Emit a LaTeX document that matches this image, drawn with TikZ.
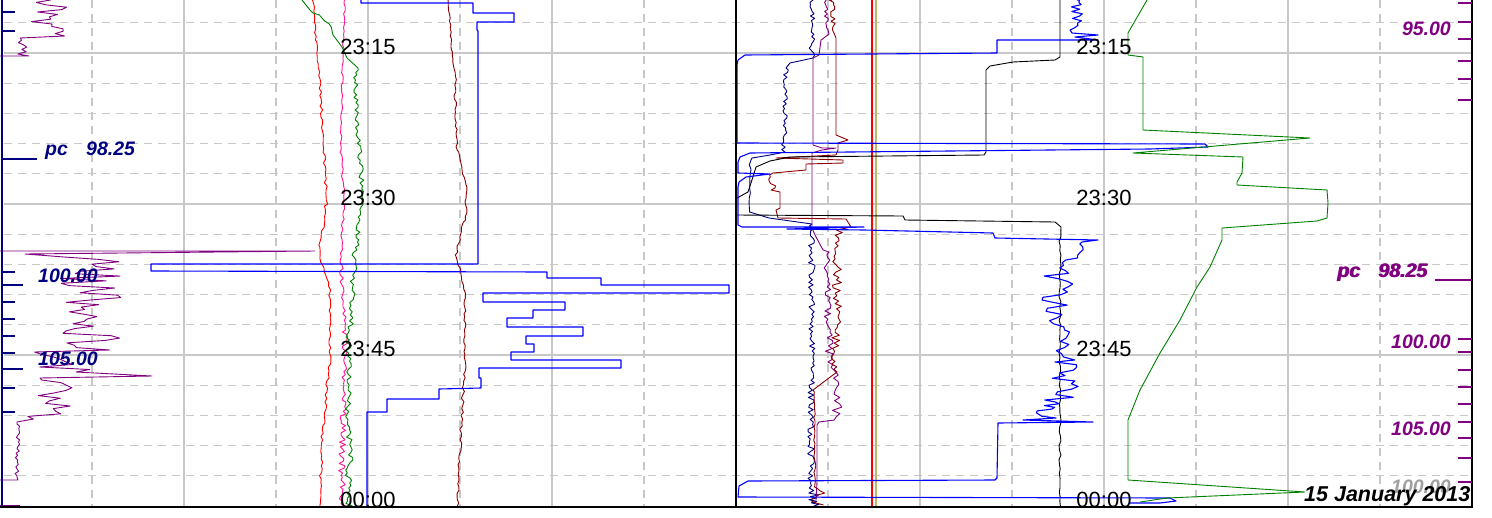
\documentclass[tikz,border=0pt]{standalone}
\usepackage{fontspec}
\setmainfont{Liberation Sans}
\definecolor{navyc}{HTML}{000080}
\definecolor{purp}{HTML}{800080}
\definecolor{maroonc}{HTML}{8B0000}
\definecolor{pinkc}{HTML}{FF1493}
\definecolor{greenc}{HTML}{008000}
\definecolor{bluec}{HTML}{0000FF}
\definecolor{redc}{HTML}{FF0000}
\definecolor{olivec}{HTML}{BDB76B}
\definecolor{gridc}{HTML}{C8C8C8}
\definecolor{grayt}{HTML}{A0A0A0}
\newcommand\tracenz[6]{--plot[domain=#2:#4,samples=#6,variable=\t]({#1+(#3-#1)*(\t-#2)/(#4-#2)+#5*rand},{\t})}
\tikzset{
  grids/.style={gridc,line width=1.3pt},
  gridd/.style={gridc,line width=1.1pt,dash pattern=on 8pt off 6pt},
  tr/.style={line width=0.9pt,line join=round},
  trb/.style={bluec,line width=1.1pt,line join=round},
  timelbl/.style={font=\fontsize{22}{26}\selectfont,anchor=base,inner sep=0pt},
  scl/.style={font=\fontsize{19.5}{23}\selectfont\bfseries\itshape,inner sep=0pt},
  tick/.style={line width=1.6pt},
}
\begin{document}
\begin{tikzpicture}[x=1pt,y=-1pt]
\pgfmathsetseed{7}
\useasboundingbox[fill=white] (0,0) rectangle (1492,517);
% grid
\foreach \p in {0,736}{
  \foreach \d in {92,276,460,644} \draw[gridd] ({\p+\d},0) -- ({\p+\d},507);
  \foreach \d in {184,368,552} \draw[grids] ({\p+\d},0) -- ({\p+\d},507);
}
\foreach \k in {-1,1,2,3,4,6,7,8,9,11,12,13,14} \draw[gridd] (4,{53+30.2*\k}) -- (1472,{53+30.2*\k});
\foreach \k in {0,5,10} \draw[grids] (4,{53+30.2*\k}) -- (1472,{53+30.2*\k});

% ---------- left panel ----------
% purple zigzag
\draw[purp,tr] (46,0) \tracenz{46}{0}{46}{36}{21}{16} \tracenz{22}{38}{22}{54}{5}{8} -- (29,56) -- (0,56);
\draw[purp,tr] (0,251) -- (315,251) -- (25,254) \tracenz{90}{257}{92}{350}{30}{40} \tracenz{65}{352}{60}{372}{33}{9} -- (152,376) -- (40,378) \tracenz{52}{380}{50}{419}{24}{16} -- (17,422) \tracenz{18}{424}{17}{478}{2}{25} -- (18,480) -- (0,480);
\draw[purp,tr] (0,505) -- (20,505);
% red
\draw[redc,tr] (313,0) \tracenz{313}{0}{316}{40}{1}{12} \tracenz{316}{42}{320}{83}{1}{12} \tracenz{320}{85}{325}{170}{1.2}{25} \tracenz{325}{172}{327}{204}{1.5}{10} \tracenz{326}{206}{320}{245}{1.5}{12} \tracenz{320}{247}{320}{262}{1}{5} \tracenz{322}{264}{330}{290}{1}{8} \tracenz{330}{292}{330}{355}{1.2}{18} \tracenz{330}{357}{322}{440}{1.5}{25} \tracenz{322}{442}{320}{506}{1.5}{20};
% pink
\draw[pinkc,tr] (345,0) \tracenz{345}{0}{342}{83}{1}{25} \tracenz{342}{85}{341}{150}{1}{20} \tracenz{341}{152}{344}{200}{1.2}{15} \tracenz{344}{202}{341}{260}{1.5}{18} \tracenz{341}{262}{345}{330}{2}{22} \tracenz{345}{332}{344}{400}{2.5}{25} \tracenz{344}{402}{341}{506}{3.5}{45};
% green
\draw[greenc,tr] (302,0) -- (310,10) -- (313,13) \tracenz{318}{15}{332}{27}{2}{5} -- (333,35) -- (342,47) -- (347,58) -- (358,68) \tracenz{356}{70}{357}{130}{2.5}{25} \tracenz{358}{132}{363}{200}{2.5}{25} \tracenz{361}{202}{355}{255}{3}{22} \tracenz{355}{257}{350}{330}{3}{25} \tracenz{349}{332}{348}{430}{3}{38} \tracenz{349}{432}{349}{506}{4}{30};
% maroon
\draw[maroonc,tr] (448,0) \tracenz{448}{0}{452}{50}{1}{15} \tracenz{452}{52}{456}{83}{1}{10} \tracenz{455}{85}{457}{150}{1.2}{20} \tracenz{458}{152}{466}{185}{1.2}{10} \tracenz{466}{187}{466}{220}{1}{10} \tracenz{464}{222}{456}{255}{1.2}{12} \tracenz{457}{257}{465}{293}{1.2}{10} \tracenz{465}{295}{465}{355}{1.2}{20} \tracenz{465}{357}{460}{450}{1.5}{28} \tracenz{460}{452}{457}{506}{1.5}{18};
% blue steps
\draw[trb] (361,0) -- (361,3) -- (473,3) -- (473,13) -- (514,13) -- (514,22) -- (477,22) -- (477,30) -- (478,31) -- (478,264) -- (151,264) -- (151,271) -- (547,272) -- (547,278) -- (601,278) -- (601,285) -- (729,285) -- (729,293) -- (483,293) -- (483,302) -- (565,302) -- (565,310) -- (533,310) -- (533,318) -- (507,318) -- (507,327) -- (583,327) -- (583,336) -- (526,336) -- (526,344) -- (534,344) -- (534,352) -- (511,352) -- (511,360) -- (621,360) -- (621,368) -- (479,368) -- (479,378) -- (481,378) -- (481,388) -- (439,389) -- (439,399) -- (387,399) -- (387,412) -- (367,412) -- (367,507);

% ---------- right panel ----------
\draw[redc,line width=1.2pt] (872,0) -- (872,507);
\draw[olivec,line width=1.2pt] (876,0) -- (876,507);
% navy
\draw[navyc,tr] (812,0) \tracenz{812}{0}{812}{55}{3}{25} -- (813,58) -- (790,63) -- (786,68) \tracenz{786}{70}{784}{152}{2.5}{35} -- (770,155) -- (752,158) \tracenz{750}{160}{750}{212}{1}{12} -- (769,218) -- (812,224) \tracenz{812}{226}{811}{493}{3.5}{110} \tracenz{813}{495}{813}{506}{6}{8};
% purple
\draw[purp,tr] (826,0) \tracenz{826}{0}{827}{30}{2}{14} -- (829,34) -- (821,40) -- (819,55) -- (813,58) -- (813,145) -- (822,148) -- (836,148) -- (822,150) -- (812,153) -- (812,228) -- (815,235) -- (823,250) \tracenz{826}{252}{830}{370}{4}{45} \tracenz{831}{375}{836}{420}{8}{15} -- (819,422) -- (817,425) -- (817,482) -- (816,500);
% maroon
\draw[maroonc,tr] (832,0) \tracenz{832}{0}{833}{33}{3}{15} -- (836,38) -- (836,135) -- (848,140) -- (838,143) -- (838,150) -- (836,155) -- (776,158) -- (843,160) -- (843,163) -- (806,164) -- (806,170) -- (773,173) \tracenz{771}{175}{773}{190}{3}{8} -- (780,192) -- (780,208) -- (776,210) -- (778,218) -- (846,219) -- (851,227) \tracenz{838}{230}{836}{372}{5}{55} -- (813,390) \tracenz{814}{392}{815}{485}{1}{30} \tracenz{818}{487}{818}{505}{7}{10};
% black
\draw[black,tr] (1060,0) -- (1060,57) -- (1055,60) -- (1013,62) -- (990,66) -- (986,70) -- (986,152) -- (984,155) -- (790,157) -- (770,161) -- (756,167) -- (751,183) -- (748,192) -- (737,198);
\draw[black,tr] (736,215) -- (903,216) -- (905,220) -- (1055,222) -- (1061,227) \tracenz{1060}{232}{1060}{506}{1}{60};
% blue
\draw[trb] (1077,0) \tracenz{1077}{0}{1076}{30}{6}{14} -- (1072,33) -- (1098,35) -- (1075,37) -- (1098,40) -- (997,40) -- (997,53) -- (745,55) -- (738,60) -- (737,65) -- (737,143) -- (1205,144) -- (1208,147) -- (1150,149) -- (750,153) -- (740,157) -- (738,162) -- (738,173) -- (770,174) -- (746,177) -- (739,182) -- (738,187) -- (738,225) -- (742,227) -- (864,227) -- (787,229) -- (864,230) -- (993,233) -- (995,238) -- (1098,240) -- (1082,242) \tracenz{1082}{244}{1080}{258}{3}{6} \tracenz{1060}{260}{1058}{300}{18}{16} \tracenz{1054}{302}{1054}{330}{14}{10} \tracenz{1066}{332}{1066}{360}{10}{10} \tracenz{1062}{362}{1062}{400}{18}{15} \tracenz{1046}{402}{1046}{418}{20}{10} -- (1023,420) -- (1093,422) -- (998,423) -- (997,478) -- (995,480) -- (748,481) -- (739,486) -- (738,497) -- (1170,498) -- (1176,501) -- (1160,503) -- (1130,503);
% green
\draw[greenc,tr] (1147,0) -- (1128,33) -- (1128,55) -- (1143,57) -- (1143,130) -- (1310,138) -- (1133,153) -- (1243,157) -- (1242,173) -- (1237,182) -- (1237,185) -- (1327,190) -- (1328,203) -- (1327,218) -- (1317,221) -- (1222,228) -- (1222,240) -- (1210,267) -- (1197,287) -- (1180,320) -- (1160,353) -- (1140,390) -- (1128,420) -- (1128,480) -- (1305,492) -- (1167,498) -- (1140,502);

% ---------- axes ----------
\draw[navyc,line width=2pt] (2,0) -- (2,507);
\draw[black,line width=1.2pt] (736,0) -- (736,507);
\draw[black,line width=2.2pt] (1472,0) -- (1472,508);
\draw[black,line width=2pt] (0,507) -- (1473,507);
% left ticks
\foreach \y in {12,31,272,302,319,336,353,388,412} \draw[navyc,tick] (2,\y) -- (15,\y);
\foreach \y in {285,369} \draw[navyc,tick] (2,\y) -- (23,\y);
\draw[navyc,tick] (2,159) -- (37,159);
% right ticks
\foreach \y in {3,22,39,61,79,100,339,352,370,387,404,422,438,458,482} \draw[purp,tick] (1458,\y) -- (1472,\y);
\draw[purp,line width=2pt] (1435,280) -- (1472,280);

% ---------- labels ----------
\node[timelbl] (t1l) at (368,54) {23:15};
\node[timelbl] (t2l) at (368,205) {23:30};
\node[timelbl] (t3l) at (368,356) {23:45};
\node[timelbl] (t4l) at (368,507) {00:00};
\node[timelbl] (t1r) at (1104,54) {23:15};
\node[timelbl] (t2r) at (1104,205) {23:30};
\node[timelbl] (t3r) at (1104,356) {23:45};
\node[timelbl] (t4r) at (1104,507) {00:00};

\node[scl,navyc,anchor=base west] (pcl) at (45,155) {pc};
\node[scl,navyc,anchor=base west] (pcvl) at (86,155) {98.25};
\node[scl,navyc,anchor=base west] (l100) at (38,282) {100.00};
\node[scl,navyc,anchor=base west] (l105) at (38,365) {105.00};

\node[scl,purp,anchor=base east] (r95) at (1451,35) {95.00};
\node[scl,purp,anchor=base west] (pcr) at (1337,277) {pc};
\node[scl,purp,anchor=base west] (pcvr) at (1378,277) {98.25};
\node[scl,purp,anchor=base west] (pcr2) at (1338,277) {pc};
\node[scl,purp,anchor=base west] (pcvr2) at (1379,277) {98.25};
\node[scl,purp,anchor=base east] (r100) at (1451,348) {100.00};
\node[scl,purp,anchor=base east] (r105) at (1451,435) {105.00};
\node[scl,grayt,anchor=base east] (r100g) at (1451,493) {100.00};
\node[font=\fontsize{21.5}{25}\selectfont\bfseries\itshape,inner sep=0pt,anchor=base west] (date) at (1304,501) {15 January 2013};
\end{tikzpicture}
\end{document}
